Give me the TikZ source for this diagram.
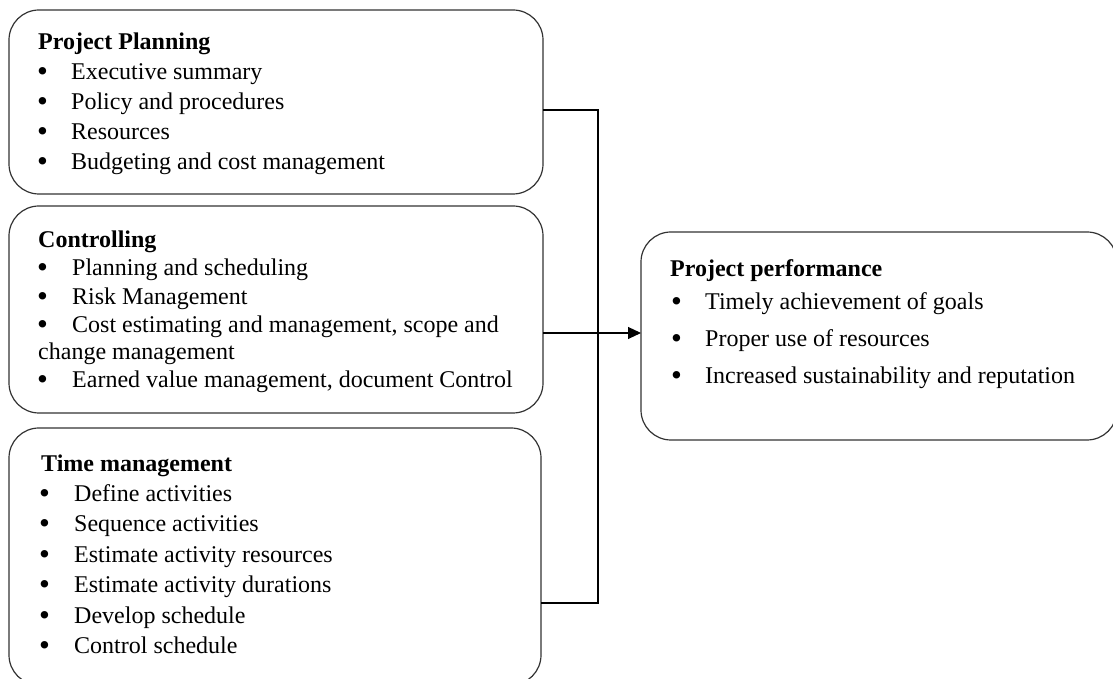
\documentclass[tikz,border=0pt]{standalone}
\usepackage{fontspec}
\setmainfont{Liberation Serif}
\usetikzlibrary{arrows.meta}
\newcommand{\bul}[1]{\makebox[#1][l]{\raisebox{-1.5pt}{\fontsize{31}{29}\selectfont•}}}
\begin{document}
\begin{tikzpicture}[x=1pt,y=1pt,
  boxst/.style={draw=black!80, line width=1.2pt, rounded corners=30pt},
  txt/.style={anchor=base west, inner sep=0pt, font=\fontsize{24}{29}\selectfont},
  ttl/.style={txt, font=\fontsize{24}{29}\selectfont\bfseries},
  conn/.style={draw=black, line width=1.1pt}]
\useasboundingbox (0,0) rectangle (1113,679);
\clip (0,0) rectangle (1113,679);
% boxes
\draw[boxst] (9,485) rectangle (543,669) node[pos=0.5, inner sep=0] (b1) {};
\draw[boxst] (9,266) rectangle (543,473) node[pos=0.5, inner sep=0] (b2) {};
\draw[boxst] (9,-6) rectangle (541,251) node[pos=0.5, inner sep=0] (b3) {};
\draw[boxst] (641,239) rectangle (1117,447) node[pos=0.5, inner sep=0] (b4) {};
\coordinate (b1e) at (543,569);
\coordinate (b2e) at (543,346);
\coordinate (b3e) at (541,76);
\coordinate (b4w) at (641,346);
% Box 1 text
\node[ttl] (t1) at (38,629) {Project Planning};
\foreach \y/\s [count=\i] in {599/Executive summary, 569/Policy and procedures, 539/Resources, 509/Budgeting and cost management}{
  \node[txt] (a\i) at (37,\y) {\bul{34pt}\s};
}
% Box 2 text
\node[ttl] (t2) at (38,431) {Controlling};
\node[txt] (c1) at (37,403) {\bul{35pt}Planning and scheduling};
\node[txt] (c2) at (37,374) {\bul{35pt}Risk Management};
\node[txt] (c3) at (37,346) {\bul{35pt}Cost estimating and management, scope and};
\node[txt] (c4) at (38,319) {change management};
\node[txt] (c5) at (37,291) {\bul{35pt}Earned value management, document Control};
% Box 3 text
\node[ttl] (t3) at (41,207) {Time management};
\foreach \y/\s [count=\i] in {177/Define activities, 147/Sequence activities, 116/Estimate activity resources, 86/Estimate activity durations, 55/Develop schedule, 25/Control schedule}{
  \node[txt] (d\i) at (39,\y) {\bul{35pt}\s};
}
% Box 4 text
\node[ttl] (t4) at (670,402) {Project performance};
\foreach \y/\s [count=\i] in {369/Timely achievement of goals, 332/Proper use of resources, 295/Increased sustainability and reputation}{
  \node[txt] (e\i) at (671,\y) {\bul{34pt}\s};
}
% connectors
\coordinate (jt) at (598,569);
\coordinate (jm) at (598,346);
\coordinate (jb) at (598,76);
\draw[conn] (b1e) -- (jt) -- (jb) -- (b3e);
\draw[conn] (b2e) -- (jm);
\draw[conn, -{Triangle[length=13pt,width=12pt]}] (jm) -- (b4w);
\end{tikzpicture}
\end{document}
